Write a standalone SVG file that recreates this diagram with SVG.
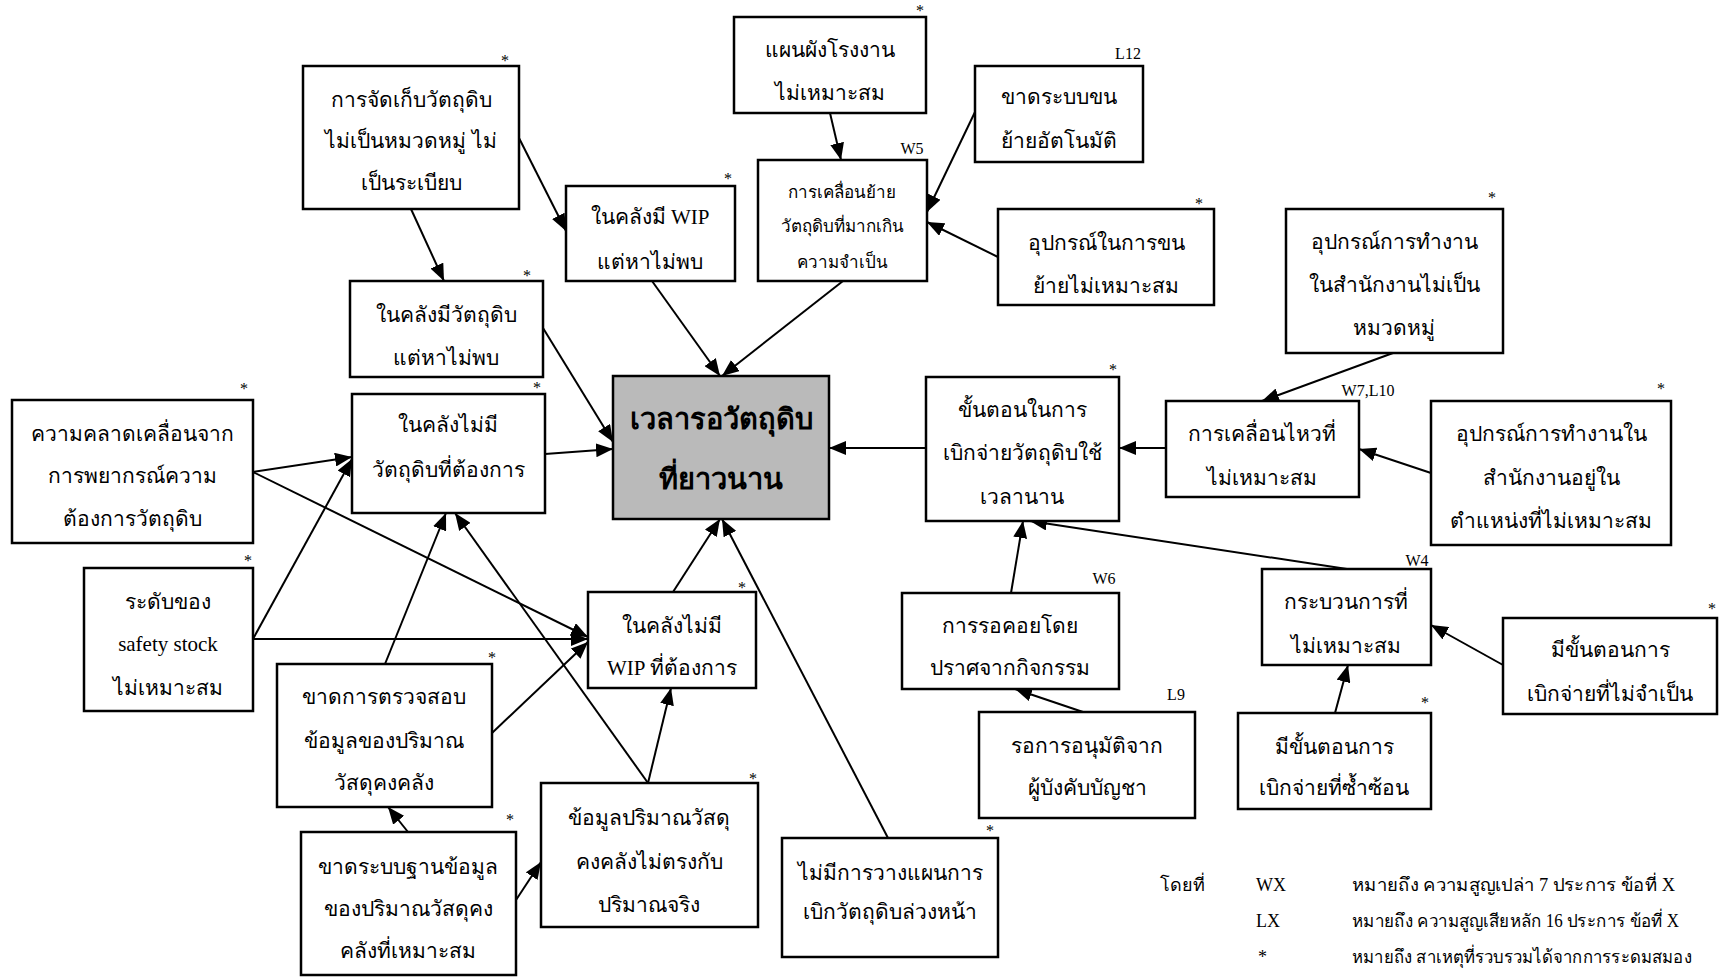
<svg xmlns="http://www.w3.org/2000/svg" width="1719" height="977" viewBox="0 0 1719 977">
  <style>
    .box { fill: #ffffff; stroke: #000000; stroke-width: 2.5; }
    .core { fill: #bababa; stroke: #000000; stroke-width: 2.5; }
    .t { font-family: "Liberation Serif", "DejaVu Serif", serif; font-size: 21px; fill: #000; text-anchor: middle; }
    .ts { font-family: "Liberation Serif", "DejaVu Serif", serif; font-size: 17px; fill: #000; text-anchor: middle; }
    .tb { font-family: "Liberation Serif", "DejaVu Serif", serif; font-size: 29px; font-weight: bold; fill: #000; text-anchor: middle; }
    .tag { font-family: "Liberation Serif", serif; font-size: 16px; fill: #000; text-anchor: middle; }
    .leg { font-family: "Liberation Serif", "DejaVu Serif", serif; font-size: 18px; fill: #000; }
    .edge { stroke: #000; stroke-width: 2; fill: none; marker-end: url(#ah); }
  </style>
  <defs>
    <marker id="ah" markerUnits="userSpaceOnUse" markerWidth="18" markerHeight="14" refX="17" refY="7" orient="auto">
      <path d="M0,0 L17,7 L0,14 z" fill="#000"/>
    </marker>
  </defs>
  <rect width="1719" height="977" fill="#ffffff"/>

  <g id="connectors">
    <line class="edge" x1="411" y1="209" x2="444" y2="281"/>
    <line class="edge" x1="519" y1="138" x2="566" y2="231"/>
    <line class="edge" x1="543" y1="328" x2="613" y2="442"/>
    <line class="edge" x1="545" y1="454" x2="613" y2="449"/>
    <line class="edge" x1="652" y1="281" x2="720" y2="376"/>
    <line class="edge" x1="843" y1="281" x2="722" y2="376"/>
    <line class="edge" x1="830" y1="113" x2="841" y2="160"/>
    <line class="edge" x1="975" y1="112" x2="927" y2="212"/>
    <line class="edge" x1="998" y1="257" x2="927" y2="222"/>
    <line class="edge" x1="926" y1="448" x2="829" y2="448"/>
    <line class="edge" x1="1166" y1="448" x2="1119" y2="448"/>
    <line class="edge" x1="1393" y1="353" x2="1262" y2="401"/>
    <line class="edge" x1="1431" y1="473" x2="1359" y2="449"/>
    <line class="edge" x1="1011" y1="593" x2="1023" y2="521"/>
    <line class="edge" x1="1347" y1="569" x2="1030" y2="521"/>
    <line class="edge" x1="1083" y1="712" x2="1015" y2="689"/>
    <line class="edge" x1="1335" y1="713" x2="1348" y2="665"/>
    <line class="edge" x1="1503" y1="665" x2="1431" y2="625"/>
    <line class="edge" x1="253" y1="472" x2="352" y2="457"/>
    <line class="edge" x1="253" y1="472" x2="588" y2="637"/>
    <line class="edge" x1="253" y1="639" x2="352" y2="459"/>
    <line class="edge" x1="253" y1="639" x2="588" y2="639"/>
    <line class="edge" x1="385" y1="664" x2="446" y2="513"/>
    <line class="edge" x1="492" y1="733" x2="588" y2="642"/>
    <line class="edge" x1="648" y1="783" x2="455" y2="513"/>
    <line class="edge" x1="648" y1="783" x2="671" y2="688"/>
    <line class="edge" x1="673" y1="592" x2="720" y2="519"/>
    <line class="edge" x1="888" y1="838" x2="722" y2="519"/>
    <line class="edge" x1="408" y1="832" x2="388" y2="807"/>
    <line class="edge" x1="516" y1="900" x2="541" y2="862"/>
  </g>

  <g id="n-storage">
    <rect class="box" x="303" y="66" width="216" height="143"/>
    <text class="t" x="411" y="107">การจัดเก็บวัตถุดิบ</text>
    <text class="t" x="411" y="148">ไม่เป็นหมวดหมู่ ไม่</text>
    <text class="t" x="411" y="190">เป็นระเบียบ</text>
    <text class="tag" x="505" y="66">*</text>
  </g>
  <g id="n-raw-notfound">
    <rect class="box" x="350" y="281" width="193" height="96"/>
    <text class="t" x="446" y="322">ในคลังมีวัตถุดิบ</text>
    <text class="t" x="446" y="365">แต่หาไม่พบ</text>
    <text class="tag" x="527" y="281">*</text>
  </g>
  <g id="n-raw-missing">
    <rect class="box" x="352" y="394" width="193" height="119"/>
    <text class="t" x="448" y="432">ในคลังไม่มี</text>
    <text class="t" x="448" y="477">วัตถุดิบที่ต้องการ</text>
    <text class="tag" x="537" y="393">*</text>
  </g>
  <g id="n-forecast">
    <rect class="box" x="12" y="400" width="241" height="143"/>
    <text class="t" x="132" y="441">ความคลาดเคลื่อนจาก</text>
    <text class="t" x="132" y="483">การพยากรณ์ความ</text>
    <text class="t" x="132" y="526">ต้องการวัตถุดิบ</text>
    <text class="tag" x="244" y="394">*</text>
  </g>
  <g id="n-safety">
    <rect class="box" x="84" y="568" width="169" height="143"/>
    <text class="t" x="168" y="609">ระดับของ</text>
    <text class="t" x="168" y="651">safety stock</text>
    <text class="t" x="168" y="695">ไม่เหมาะสม</text>
    <text class="tag" x="248" y="566">*</text>
  </g>
  <g id="n-nocheck">
    <rect class="box" x="277" y="664" width="215" height="143"/>
    <text class="t" x="384" y="704">ขาดการตรวจสอบ</text>
    <text class="t" x="384" y="748">ข้อมูลของปริมาณ</text>
    <text class="t" x="384" y="790">วัสดุคงคลัง</text>
    <text class="tag" x="492" y="663">*</text>
  </g>
  <g id="n-wip-missing">
    <rect class="box" x="588" y="592" width="168" height="96"/>
    <text class="t" x="672" y="633">ในคลังไม่มี</text>
    <text class="t" x="672" y="675">WIP ที่ต้องการ</text>
    <text class="tag" x="742" y="593">*</text>
  </g>
  <g id="n-nodb">
    <rect class="box" x="301" y="832" width="215" height="143"/>
    <text class="t" x="408" y="874">ขาดระบบฐานข้อมูล</text>
    <text class="t" x="408" y="916">ของปริมาณวัสดุคง</text>
    <text class="t" x="408" y="958">คลังที่เหมาะสม</text>
    <text class="tag" x="510" y="825">*</text>
  </g>
  <g id="n-mismatch">
    <rect class="box" x="541" y="783" width="217" height="144"/>
    <text class="t" x="649" y="825">ข้อมูลปริมาณวัสดุ</text>
    <text class="t" x="649" y="869">คงคลังไม่ตรงกับ</text>
    <text class="t" x="649" y="912">ปริมาณจริง</text>
    <text class="tag" x="753" y="784">*</text>
  </g>
  <g id="n-noplan">
    <rect class="box" x="782" y="838" width="216" height="119"/>
    <text class="t" x="890" y="880">ไม่มีการวางแผนการ</text>
    <text class="t" x="890" y="919">เบิกวัตถุดิบล่วงหน้า</text>
    <text class="tag" x="990" y="836">*</text>
  </g>
  <g id="n-core">
    <rect class="core" x="613" y="376" width="216" height="143"/>
    <text class="tb" x="721" y="429">เวลารอวัตถุดิบ</text>
    <text class="tb" x="721" y="489">ที่ยาวนาน</text>
  </g>
  <g id="n-wip-notfound">
    <rect class="box" x="566" y="186" width="169" height="95"/>
    <text class="t" x="650" y="224">ในคลังมี WIP</text>
    <text class="t" x="650" y="269">แต่หาไม่พบ</text>
    <text class="tag" x="728" y="184">*</text>
  </g>
  <g id="n-layout">
    <rect class="box" x="734" y="17" width="192" height="96"/>
    <text class="t" x="830" y="57">แผนผังโรงงาน</text>
    <text class="t" x="830" y="100">ไม่เหมาะสม</text>
    <text class="tag" x="920" y="16">*</text>
  </g>
  <g id="n-transport">
    <rect class="box" x="758" y="160" width="169" height="121"/>
    <text class="ts" x="842" y="198">การเคลื่อนย้าย</text>
    <text class="ts" x="842" y="232">วัตถุดิบที่มากเกิน</text>
    <text class="ts" x="842" y="268">ความจำเป็น</text>
    <text class="tag" x="912" y="154">W5</text>
  </g>
  <g id="n-noauto">
    <rect class="box" x="975" y="66" width="168" height="96"/>
    <text class="t" x="1059" y="104">ขาดระบบขน</text>
    <text class="t" x="1059" y="148">ย้ายอัตโนมัติ</text>
    <text class="tag" x="1128" y="59">L12</text>
  </g>
  <g id="n-handling">
    <rect class="box" x="998" y="209" width="216" height="96"/>
    <text class="t" x="1106" y="250">อุปกรณ์ในการขน</text>
    <text class="t" x="1106" y="293">ย้ายไม่เหมาะสม</text>
    <text class="tag" x="1199" y="209">*</text>
  </g>
  <g id="n-issue-steps">
    <rect class="box" x="926" y="377" width="193" height="144"/>
    <text class="t" x="1022" y="417">ขั้นตอนในการ</text>
    <text class="t" x="1022" y="460">เบิกจ่ายวัตถุดิบใช้</text>
    <text class="t" x="1022" y="504">เวลานาน</text>
    <text class="tag" x="1113" y="375">*</text>
  </g>
  <g id="n-motion">
    <rect class="box" x="1166" y="401" width="193" height="96"/>
    <text class="t" x="1262" y="441">การเคลื่อนไหวที่</text>
    <text class="t" x="1262" y="485">ไม่เหมาะสม</text>
    <text class="tag" x="1368" y="396">W7,L10</text>
  </g>
  <g id="n-office-unsorted">
    <rect class="box" x="1286" y="209" width="217" height="144"/>
    <text class="t" x="1394" y="249">อุปกรณ์การทำงาน</text>
    <text class="t" x="1394" y="292">ในสำนักงานไม่เป็น</text>
    <text class="t" x="1394" y="335">หมวดหมู่</text>
    <text class="tag" x="1492" y="203">*</text>
  </g>
  <g id="n-office-place">
    <rect class="box" x="1431" y="401" width="240" height="144"/>
    <text class="t" x="1551" y="441">อุปกรณ์การทำงานใน</text>
    <text class="t" x="1551" y="485">สำนักงานอยู่ใน</text>
    <text class="t" x="1551" y="528">ตำแหน่งที่ไม่เหมาะสม</text>
    <text class="tag" x="1661" y="394">*</text>
  </g>
  <g id="n-waiting">
    <rect class="box" x="902" y="593" width="217" height="96"/>
    <text class="t" x="1010" y="633">การรอคอยโดย</text>
    <text class="t" x="1010" y="675">ปราศจากกิจกรรม</text>
    <text class="tag" x="1104" y="584">W6</text>
  </g>
  <g id="n-process">
    <rect class="box" x="1262" y="569" width="169" height="96"/>
    <text class="t" x="1346" y="609">กระบวนการที่</text>
    <text class="t" x="1346" y="653">ไม่เหมาะสม</text>
    <text class="tag" x="1417" y="566">W4</text>
  </g>
  <g id="n-approval">
    <rect class="box" x="979" y="712" width="216" height="106"/>
    <text class="t" x="1087" y="753">รอการอนุมัติจาก</text>
    <text class="t" x="1087" y="795">ผู้บังคับบัญชา</text>
    <text class="tag" x="1176" y="700">L9</text>
  </g>
  <g id="n-redundant">
    <rect class="box" x="1238" y="713" width="193" height="96"/>
    <text class="t" x="1334" y="754">มีขั้นตอนการ</text>
    <text class="t" x="1334" y="795">เบิกจ่ายที่ซ้ำซ้อน</text>
    <text class="tag" x="1425" y="708">*</text>
  </g>
  <g id="n-unneeded">
    <rect class="box" x="1503" y="618" width="214" height="96"/>
    <text class="t" x="1610" y="657">มีขั้นตอนการ</text>
    <text class="t" x="1610" y="701">เบิกจ่ายที่ไม่จำเป็น</text>
    <text class="tag" x="1712" y="614">*</text>
  </g>

  <g id="legend">
    <text class="leg" x="1160" y="891">โดยที่</text>
    <text class="leg" x="1256" y="891">WX</text>
    <text class="leg" x="1352" y="891" textLength="323" lengthAdjust="spacingAndGlyphs">หมายถึง ความสูญเปล่า 7 ประการ ข้อที่ X</text>
    <text class="leg" x="1256" y="927">LX</text>
    <text class="leg" x="1352" y="927" textLength="327" lengthAdjust="spacingAndGlyphs">หมายถึง ความสูญเสียหลัก 16 ประการ ข้อที่ X</text>
    <text class="leg" x="1258" y="963">*</text>
    <text class="leg" x="1352" y="963" textLength="340" lengthAdjust="spacingAndGlyphs">หมายถึง สาเหตุที่รวบรวมได้จากการระดมสมอง</text>
  </g>
</svg>
